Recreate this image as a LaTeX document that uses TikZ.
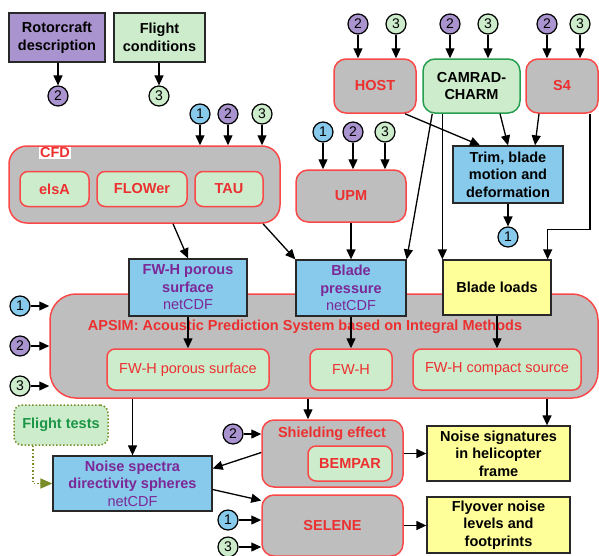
\documentclass[tikz,border=0pt]{standalone}
\usepackage{fontspec}
\setmainfont{Liberation Sans}
\usetikzlibrary{arrows.meta}

\definecolor{boxPurple}{RGB}{170,148,208}
\definecolor{boxGreen}{RGB}{204,236,204}
\definecolor{boxBlue}{RGB}{135,202,236}
\definecolor{boxGrey}{RGB}{190,190,190}
\definecolor{boxYellow}{RGB}{255,255,153}
\definecolor{lineRed}{RGB}{250,72,72}
\definecolor{textRed}{RGB}{236,48,48}
\definecolor{textPurple}{RGB}{124,40,150}
\definecolor{lineGreen}{RGB}{40,158,80}
\definecolor{textGreen}{RGB}{28,150,70}
\definecolor{lineOlive}{RGB}{120,140,40}
\definecolor{lineDark}{RGB}{40,40,40}

\newcommand{\boxFont}{\fontsize{14.5}{17.5}\selectfont}

\tikzset{
  every node/.style={inner sep=0pt, align=center, font=\boxFont},
  srcBox/.style={draw=lineDark, line width=1.3pt, font=\boxFont\bfseries},
  dataBox/.style={srcBox, fill=boxBlue, text=textPurple},
  toolBox/.style={draw=lineRed, line width=1.5pt, fill=boxGrey, rounded corners=12pt,
    text=textRed, font=\boxFont\bfseries},
  subBox/.style={toolBox, fill=boxGreen, rounded corners=8pt},
  methBox/.style={subBox, font=\boxFont},
  numBase/.style={circle, draw=black, line width=1.2pt, minimum size=20pt,
    font=\fontsize{14}{14}\selectfont},
  numA/.style={numBase, fill=boxBlue},
  numB/.style={numBase, fill=boxPurple},
  numC/.style={numBase, fill=boxGreen},
  arr/.style={-{Triangle[length=10pt,width=9pt]}, line width=1.3pt},
  testLine/.style={draw=lineOlive, line width=1.5pt, dotted}
}

\begin{document}
\begin{tikzpicture}[x=1pt,y=-1pt]
  \clip (0,0) rectangle (599,555);
  % inputs
  \node[srcBox, fill=boxPurple, minimum width=96pt, minimum height=49pt] (rotor) at (57,37.5) {Rotorcraft\\description};
  \node[srcBox, fill=boxGreen, minimum width=91pt, minimum height=49pt] (flight) at (159.5,37.5) {Flight\\conditions};
  \node[numB] (rotorN) at (58,96) {2};
  \node[numC] (flightN) at (159,96) {3};

  % CFD
  \node[toolBox, rounded corners=18pt, minimum width=271pt, minimum height=77pt] (cfd) at (144.5,184.5) {};
  \node[fill=white, text=textRed, font=\boxFont\bfseries, inner sep=1pt] (cfdName) at (55,153) {CFD};
  \node[subBox, minimum width=69pt, minimum height=35pt] (elsa) at (54.5,189) {elsA};
  \node[subBox, minimum width=90pt, minimum height=35pt] (flower) at (142,189) {FLOWer};
  \node[subBox, minimum width=68pt, minimum height=35pt] (tau) at (229,189) {TAU};
  \node[numA] (cfdA) at (200,114) {1};
  \node[numB] (cfdB) at (228,114) {2};
  \node[numC] (cfdC) at (262,114) {3};

  % comprehensive codes
  \node[toolBox, minimum width=82pt, minimum height=54pt] (host) at (375,86) {HOST};
  \node[toolBox, fill=boxGreen, draw=lineGreen, text=black, minimum width=97pt, minimum height=54pt] (camrad) at (471.5,86) {CAMRAD-\\CHARM};
  \node[toolBox, minimum width=72pt, minimum height=54pt] (sfour) at (562,86) {S4};
  \node[numB] (hostB) at (358,24) {2};
  \node[numC] (hostC) at (396,24) {3};
  \node[numB] (camB) at (450,24) {2};
  \node[numC] (camC) at (488,24) {3};
  \node[numB] (sfourB) at (547,24) {2};
  \node[numC] (sfourC) at (580,24) {3};

  \node[toolBox, minimum width=110pt, minimum height=52pt] (upm) at (351,196) {UPM};
  \node[numA] (upmA) at (323,132) {1};
  \node[numB] (upmB) at (353,132) {2};
  \node[numC] (upmC) at (385,132) {3};

  \node[srcBox, fill=boxBlue, minimum width=110pt, minimum height=57pt] (trim) at (508,174.5) {Trim, blade\\motion and\\deformation};
  \node[numA] (trimN) at (508,237) {1};

  % APSIM
  \node[toolBox, rounded corners=26pt, minimum width=548pt, minimum height=104pt] (apsim) at (324,346) {};
  \node[text=textRed, font=\boxFont\bfseries] (apsimName) at (305,327) {APSIM: Acoustic Prediction System based on Integral Methods};
  \node[methBox, minimum width=162pt, minimum height=41pt] (fwhp) at (188,369.5) {FW-H porous surface};
  \node[methBox, minimum width=82pt, minimum height=41pt] (fwh) at (351,369.5) {FW-H};
  \node[methBox, minimum width=168pt, minimum height=41pt] (fwhc) at (497,369.5) {FW-H compact source};
  \node[numA] (apsimA) at (20,306) {1};
  \node[numB] (apsimB) at (20,346) {2};
  \node[numC] (apsimC) at (20,386) {3};

  % data
  \node[dataBox, minimum width=118pt, minimum height=57pt] (porous) at (188,287.5) {FW-H porous\\surface\\\mdseries netCDF};
  \node[dataBox, minimum width=110pt, minimum height=56pt] (bpress) at (351,288) {Blade\\pressure\\\mdseries netCDF};
  \node[srcBox, fill=boxYellow, minimum width=108pt, minimum height=55pt] (bloads) at (497,287.5) {Blade loads};

  % noise
  \node[draw=lineOlive, dotted, line width=1.5pt, fill=boxGreen, rounded corners=8pt, text=textGreen,
    font=\boxFont\bfseries, minimum width=94pt, minimum height=40pt] (ftests) at (61,425) {Flight tests};
  \node[dataBox, minimum width=159pt, minimum height=55pt] (noise) at (132.5,483.5) {Noise spectra\\directivity spheres\\\mdseries netCDF};
  \node[toolBox, minimum width=141pt, minimum height=67pt] (shield) at (332.5,453.5) {};
  \node[text=textRed, font=\boxFont\bfseries] (shieldName) at (332,434) {Shielding effect};
  \node[subBox, minimum width=84pt, minimum height=35pt] (bempar) at (350,463.5) {BEMPAR};
  \node[numB] (shieldN) at (233,434) {2};
  \node[toolBox, minimum width=141pt, minimum height=61pt] (selene) at (332.5,525.5) {SELENE};
  \node[numA] (seleneA) at (228,520) {1};
  \node[numC] (seleneC) at (228,547) {3};
  \node[srcBox, fill=boxYellow, minimum width=143pt, minimum height=55pt] (signat) at (498.5,453.5) {Noise signatures\\in helicopter\\frame};
  \node[srcBox, fill=boxYellow, minimum width=143pt, minimum height=56pt] (flyover) at (498.5,525) {Flyover noise\\levels and\\footprints};

  % connectors
  \draw[arr] (rotorN.north |- rotor.south) -- (rotorN.north);
  \draw[arr] (flightN.north |- flight.south) -- (flightN.north);
  \foreach \n/\b in {cfdA/cfd, cfdB/cfd, cfdC/cfd, upmA/upm, upmB/upm, upmC/upm,
      hostB/host, hostC/host, camB/camrad, camC/camrad, sfourB/sfour, sfourC/sfour}
    \draw[arr] (\n.south) -- (\n.south |- \b.north);
  \foreach \n/\b in {apsimA/apsim, apsimB/apsim, apsimC/apsim, shieldN/shield, seleneA/selene, seleneC/selene}
    \draw[arr] (\n.east) -- (\n.east -| \b.west);

  \draw[arr] ([xshift=28.5pt]cfd.south) -- (porous.north);
  \draw[arr] ([xshift=118.5pt]cfd.south) -- (bpress.north west);
  \draw[arr] (upm.south) -- (bpress.north);
  \draw[arr] ([xshift=10pt]camrad.south west) -- (bpress.north east);
  \draw[arr] (bloads.north west |- camrad.south) -- (bloads.north west);
  \draw[arr] ([xshift=28.5pt]camrad.south) -- (trim.north);
  \draw[arr] ([xshift=30pt]host.south) -- ([xshift=-28pt]trim.north);
  \draw[arr] ([xshift=-23pt]sfour.south) -- ([xshift=27pt]trim.north);
  \draw[arr] ([xshift=28pt]sfour.south) -- ++(0,116) -| ([xshift=-4pt]bloads.north east);
  \draw[arr] (trim.south) -- (trimN.north);

  \draw[arr] (porous.south) -- (fwhp.north);
  \draw[arr] (bpress.south) -- (fwh.north);
  \draw[arr] (bloads.south) -- (fwhc.north);

  \coordinate (shieldTop) at ([xshift=-24.5pt]shield.north);
  \coordinate (signatTop) at ([xshift=48.5pt]signat.north);
  \coordinate (testEnd) at ([xshift=-12pt]noise.west);
  \draw[arr] (apsim.south -| noise.north) -- (noise.north);
  \draw[arr] (apsim.south -| shieldTop) -- (shieldTop);
  \draw[arr] (apsim.south -| signatTop) -- (signatTop);
  \draw[testLine] ([xshift=-28pt]ftests.south) |- (testEnd);
  \draw[-{Triangle[length=12pt,width=10pt]}, line width=1.5pt, draw=lineOlive, fill=lineOlive] (testEnd) -- (noise.west);
  \draw[arr] ([yshift=1pt]shield.west) -- ([yshift=15pt]noise.east);
  \draw[arr] ([yshift=-6pt]noise.east) -- ([yshift=25pt]selene.west);
  \draw[arr] (shield.east) -- (signat.west);
  \draw[arr] (selene.east) -- (selene.east -| flyover.west);
\end{tikzpicture}
\end{document}
